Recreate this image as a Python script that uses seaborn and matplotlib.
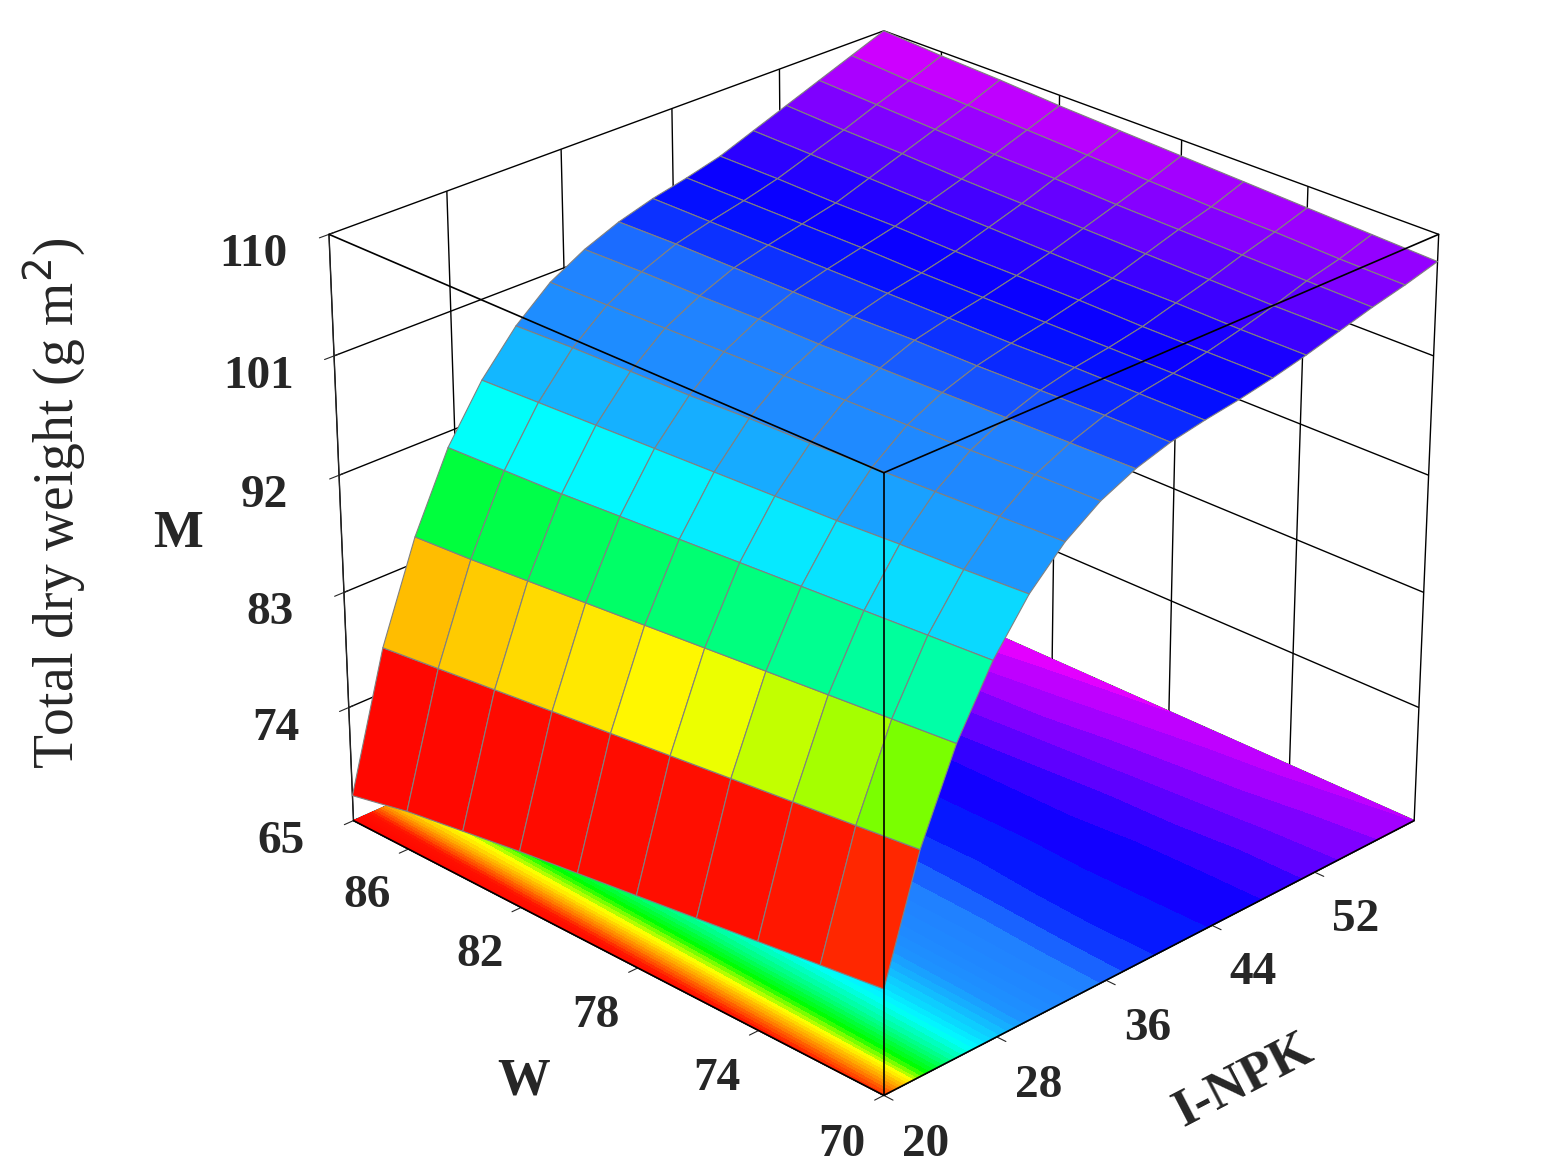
import numpy as np
import matplotlib
matplotlib.use("Agg")
import matplotlib.pyplot as plt
import seaborn as sns
from matplotlib.colors import LinearSegmentedColormap

sns.set_style("white")
plt.rcParams['font.family'] = ['Liberation Serif', 'DejaVu Serif']

npk = [20, 22.5, 25, 27.5, 30, 32.5, 35, 37.5, 40, 42.5, 45, 47.5, 50, 52.5, 55, 57.5, 60]
w = [70, 72, 74, 76, 78, 80, 82, 84, 86, 88]
# M values: rows = W, columns = I-NPK
m_table = [
    [73.0, 82.0, 88.5, 93.3, 96.9, 99.5, 101.3, 102.5, 103.3, 103.8, 104.2, 104.7, 105.3, 106.0, 106.7, 107.3, 108.0],
    [72.4, 81.5, 88.1, 93.0, 96.6, 99.3, 101.2, 102.4, 103.3, 103.8, 104.2, 104.7, 105.3, 106.0, 106.8, 107.4, 108.2],
    [71.8, 81.0, 87.7, 92.7, 96.4, 99.1, 101.0, 102.3, 103.2, 103.8, 104.2, 104.7, 105.4, 106.1, 106.9, 107.6, 108.4],
    [71.2, 80.5, 87.3, 92.4, 96.1, 98.9, 100.9, 102.2, 103.1, 103.7, 104.2, 104.8, 105.4, 106.2, 107.0, 107.7, 108.6],
    [70.6, 80.0, 86.9, 92.1, 95.9, 98.7, 100.8, 102.1, 103.1, 103.7, 104.2, 104.8, 105.5, 106.3, 107.1, 107.9, 108.8],
    [70.0, 79.5, 86.5, 91.8, 95.7, 98.6, 100.7, 102.0, 103.0, 103.7, 104.2, 104.8, 105.6, 106.4, 107.3, 108.1, 109.0],
    [69.4, 79.0, 86.1, 91.5, 95.5, 98.4, 100.6, 102.0, 103.0, 103.7, 104.3, 104.9, 105.7, 106.5, 107.4, 108.3, 109.2],
    [68.7, 78.5, 85.7, 91.2, 95.3, 98.3, 100.5, 101.9, 103.0, 103.7, 104.3, 104.9, 105.8, 106.7, 107.6, 108.5, 109.5],
    [68.0, 78.0, 85.3, 91.0, 95.1, 98.2, 100.4, 101.9, 103.0, 103.7, 104.3, 105.0, 105.9, 106.8, 107.8, 108.7, 109.7],
    [67.0, 77.5, 85.0, 90.8, 94.9, 98.0, 100.3, 101.8, 102.9, 103.7, 104.3, 105.0, 106.0, 107.0, 108.0, 109.0, 110.0],
]
w_ticks = [70, 74, 78, 82, 86]
npk_ticks = [20, 28, 36, 44, 52]
m_ticks = [65, 74, 83, 92, 101, 110]

cmap = LinearSegmentedColormap.from_list("rb", [
    (0.0, "#ff0000"), (0.16, "#ff1000"), (0.25, "#ff9000"), (0.34, "#ffff00"),
    (0.41, "#00ff00"), (0.58, "#00ffff"), (0.72, "#1e90ff"), (0.81, "#2080ff"),
    (0.87, "#0000ff"), (0.93, "#8000ff"), (1.0, "#ff00ff")])

X, Y = np.meshgrid(npk, w)
Z = np.array(m_table)
norm = plt.Normalize(65, 110)

fig = plt.figure(figsize=(15.64, 11.70), dpi=100)
ax = fig.add_axes([0.11, 0.03, 0.89, 1.0], projection='3d', computed_zorder=False)
ax.contourf(X, Y, Z, levels=60, zdir='z', offset=65, cmap=cmap, norm=norm, zorder=1)
ax.plot_surface(X, Y, Z, facecolors=cmap(norm(Z)), edgecolor='grey',
                linewidth=0.8, shade=False, antialiased=True, zorder=2)

x0, x1 = npk[0], npk[-1]
y0, y1 = w[0], w[-1]
z0, z1 = m_ticks[0], m_ticks[-1]
kw = dict(color='black', lw=1.2, zorder=5)
ax.plot([x0, x0], [y0, y0], [z0, z1], **kw)
ax.plot([x0, x1], [y0, y0], [z1, z1], **kw)
ax.plot([x0, x0], [y0, y1], [z1, z1], **kw)
ax.plot([x0, x1], [y0, y0], [z0, z0], **kw)
ax.plot([x0, x0], [y0, y1], [z0, z0], **kw)

ax.set_xlim(20, 60)
ax.set_ylim(70, 88)
ax.set_zlim(65, 110)
ax.set_xticks(npk_ticks)
ax.set_yticks(w_ticks)
ax.set_zticks(m_ticks)
fs = 34
for lab in ax.get_xticklabels() + ax.get_yticklabels() + ax.get_zticklabels():
    lab.set_fontsize(fs)
    lab.set_fontweight('bold')
for lab in ax.get_xticklabels():
    lab.set_ha('left')
for lab in ax.get_yticklabels():
    lab.set_ha('right')
ax.tick_params(axis='x', pad=6)
ax.tick_params(axis='y', pad=6)
ax.tick_params(axis='z', pad=22)
ax.set_xlabel("I-NPK", fontsize=fs + 4, fontweight='bold', labelpad=45)
ax.set_ylabel("W", fontsize=fs + 4, fontweight='bold', labelpad=45)
ax.set_zlabel("M", fontsize=fs + 4, fontweight='bold', labelpad=45)
ax.view_init(elev=26, azim=-135)
ax.set_box_aspect((1, 1, 0.85), zoom=1.05)
for a in (ax.xaxis, ax.yaxis, ax.zaxis):
    a.set_pane_color((1, 1, 1, 0))
    a._axinfo["grid"]["color"] = "black"
    a._axinfo["grid"]["linewidth"] = 1.0
ax.zaxis.set_ticks_position('upper')
ax.zaxis.set_label_position('upper')
fig.text(0.035, 0.57, "Total dry weight (g m$^{2}$)", rotation=90, fontsize=40,
         ha='center', va='center')
fig.savefig("out.png", dpi=100)
